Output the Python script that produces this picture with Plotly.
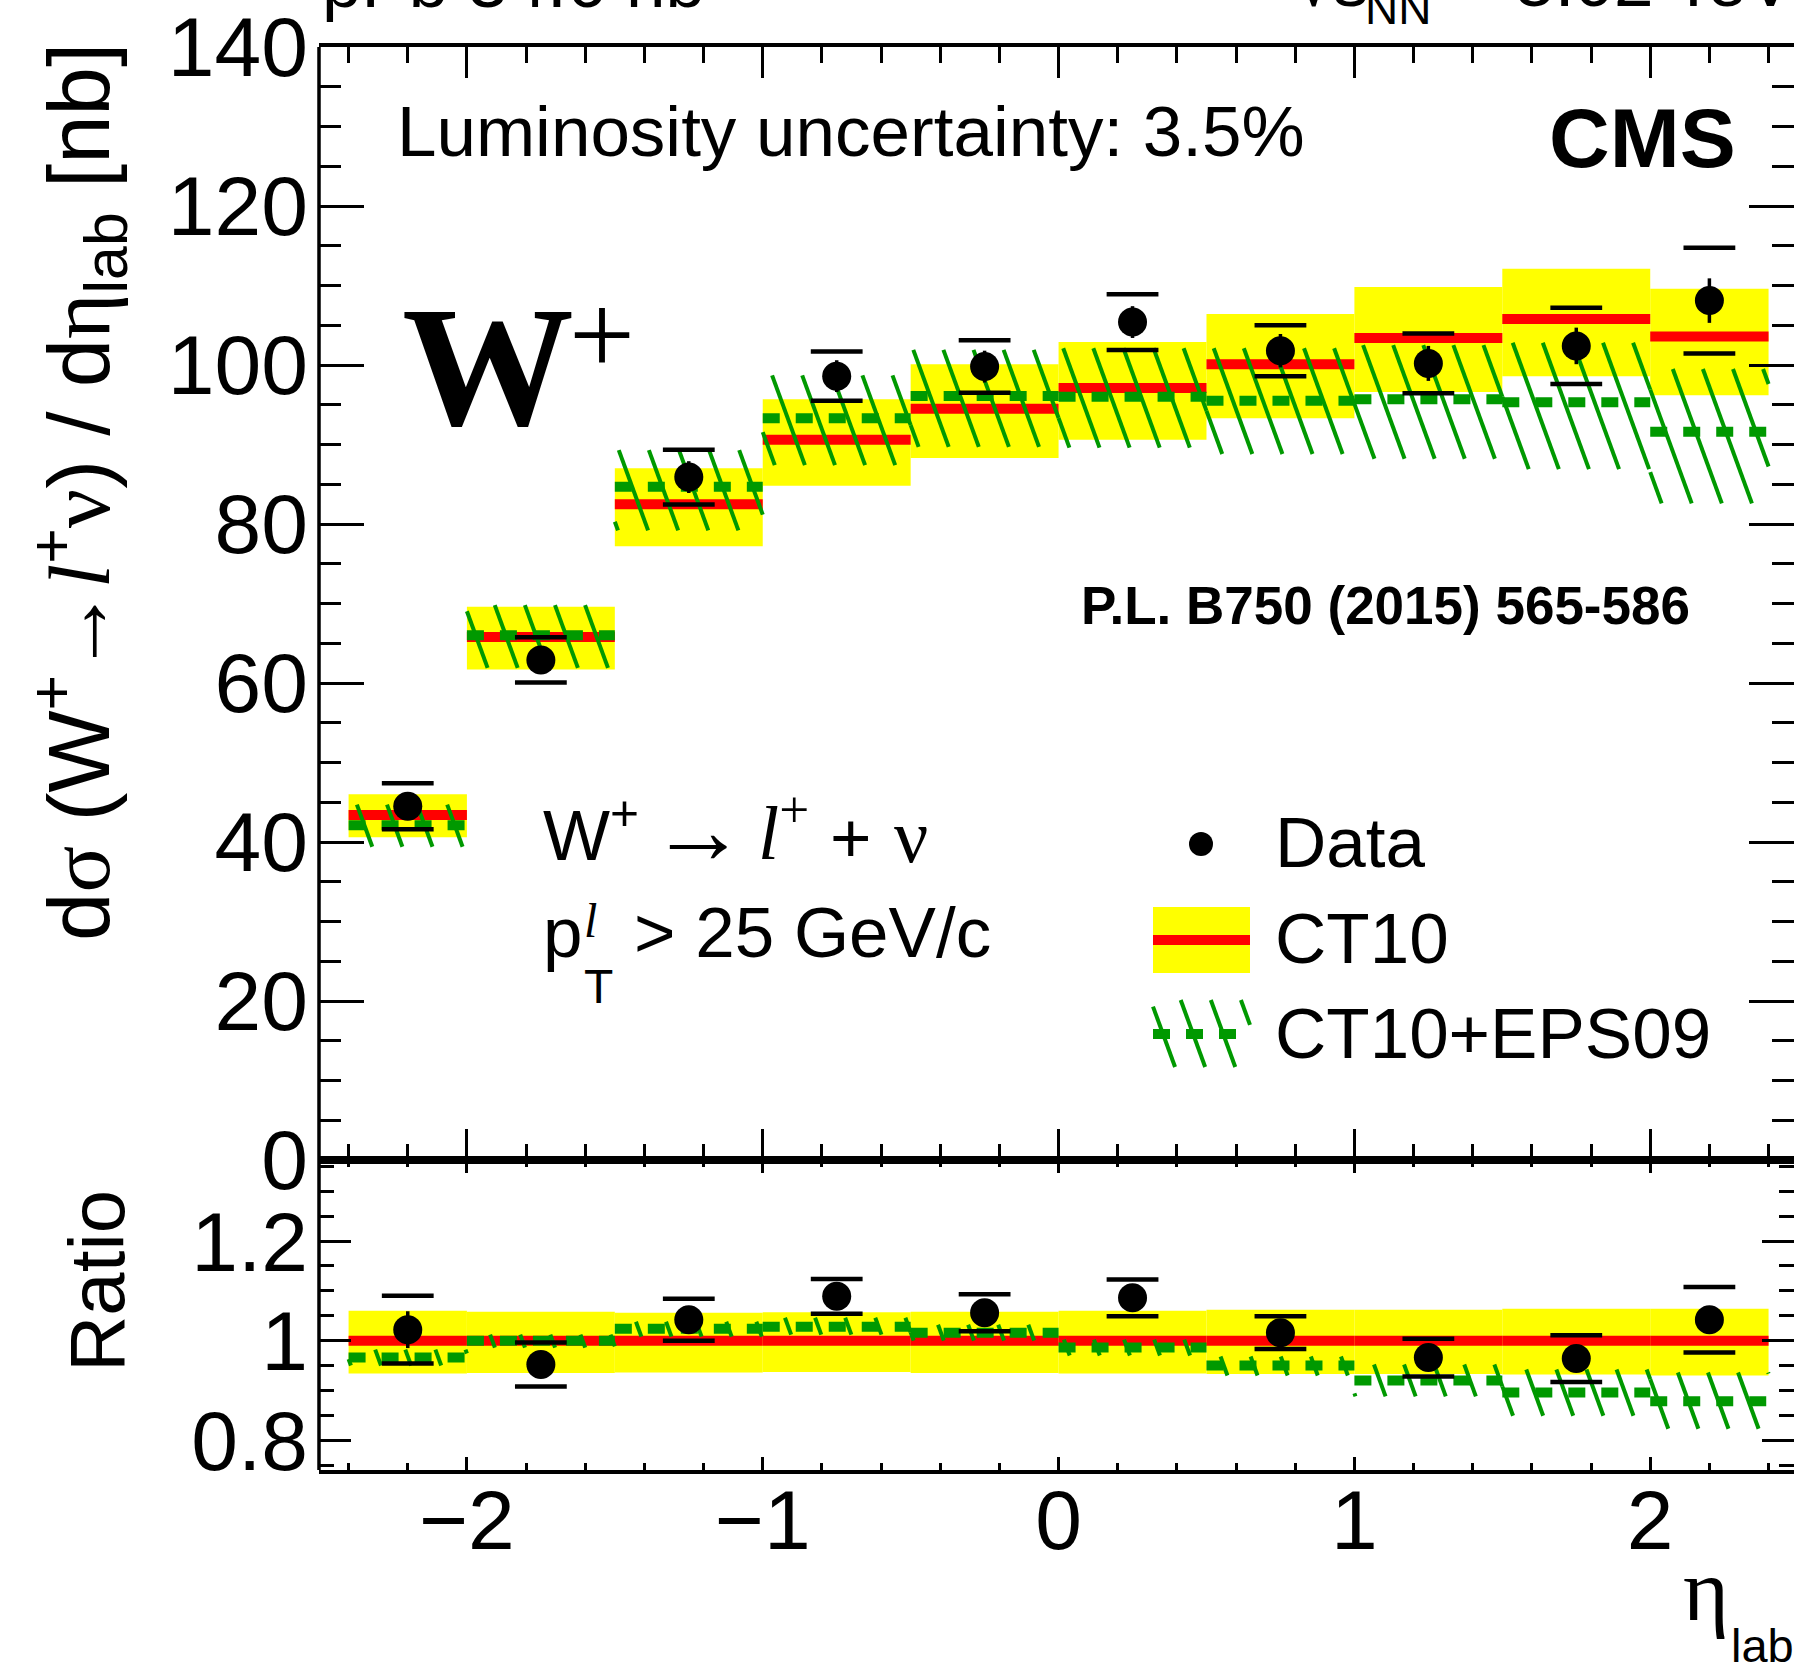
import math
import plotly.graph_objects as go

# ---------------------------------------------------------------- data
# eta_lab bin edges and the positions of the measured points
eta_edges = [-2.4, -2.0, -1.5, -1.0, -0.5, 0.0, 0.5, 1.0, 1.5, 2.0, 2.4]
eta_data = [-2.2, -1.75, -1.25, -0.75, -0.25, 0.25, 0.75, 1.25, 1.75, 2.2]

# measured d(sigma)/d(eta_lab) [nb] with statistical and systematic errors
xsec = [44.5, 62.9, 85.9, 98.6, 99.8, 105.4, 101.8, 100.2, 102.4, 108.1]
xsec_stat = [1.6, 1.7, 2.0, 2.0, 2.0, 2.0, 2.1, 2.2, 2.3, 2.8]
xsec_syst = [2.9, 2.85, 3.45, 3.1, 3.3, 3.5, 3.2, 3.75, 4.8, 6.65]

# CT10 prediction: central value and uncertainty band
ct10 = [43.4, 65.8, 82.5, 90.6, 94.5, 97.1, 100.1, 103.4, 105.8, 103.6]
ct10_lo = [40.6, 61.7, 77.2, 84.8, 88.3, 90.6, 93.3, 96.6, 98.6, 96.2]
ct10_hi = [46.0, 69.6, 87.0, 95.7, 100.1, 102.9, 106.4, 109.8, 112.1, 109.6]

# CT10+EPS09 prediction: central value and uncertainty band
eps09 = [42.1, 66.0, 84.7, 93.3, 96.1, 96.0, 95.5, 95.7, 95.3, 91.6]
eps09_lo = [39.4, 61.9, 79.2, 87.4, 89.7, 89.6, 88.8, 88.2, 86.9, 82.6]
eps09_hi = [44.7, 69.8, 89.3, 98.7, 101.9, 102.1, 102.1, 102.5, 102.8, 99.5]

# ratios to the CT10 central value
ratio = [1.022, 0.952, 1.042, 1.089, 1.056, 1.086, 1.016, 0.966, 0.964, 1.042]
ratio_stat = [0.037, 0.026, 0.024, 0.022, 0.021, 0.021, 0.021, 0.021, 0.022, 0.027]
ratio_syst = [0.068, 0.044, 0.042, 0.035, 0.037, 0.037, 0.033, 0.038, 0.047, 0.066]
ratio_ct10 = [1.0, 1.0, 1.0, 1.0, 1.0, 1.0, 1.0, 1.0, 1.0, 1.0]
ratio_ct10_lo = [0.934, 0.935, 0.936, 0.937, 0.935, 0.934, 0.933, 0.933, 0.932, 0.930]
ratio_ct10_hi = [1.060, 1.058, 1.056, 1.057, 1.058, 1.060, 1.062, 1.062, 1.064, 1.064]
ratio_eps09 = [0.966, 1.000, 1.024, 1.028, 1.016, 0.986, 0.950, 0.920, 0.896, 0.878]
ratio_eps09_lo = [0.950, 0.986, 1.008, 1.012, 1.000, 0.970, 0.930, 0.888, 0.849, 0.823]
ratio_eps09_hi = [0.982, 1.012, 1.038, 1.046, 1.032, 1.002, 0.968, 0.952, 0.942, 0.936]

# ---------------------------------------------------------------- geometry
W, H = 1794, 1668
ML, MR, MT, MB = 319, 0, 47, 198
X_RANGE = [-2.5, 2.486]
Y_RANGE = [0.0, 140.0]
R_RANGE = [0.74, 1.363]
SPLIT_PX = 1160                     # pixel row separating the two pads
PLOT_H = H - MT - MB
RATIO_FRAC = (H - MB - SPLIT_PX) / PLOT_H

FONT = "Liberation Sans, Arial, Helvetica, sans-serif"
SERIF = "Liberation Serif, Times New Roman, serif"
GREEN = "rgb(0,153,0)"


def x_from_px(p):
    return X_RANGE[0] + (p - ML) / (W - ML - MR) * (X_RANGE[1] - X_RANGE[0])


def top_from_py(p):
    return Y_RANGE[1] - (p - MT) / (SPLIT_PX - MT) * (Y_RANGE[1] - Y_RANGE[0])


def ratio_from_py(p):
    return R_RANGE[1] - (p - SPLIT_PX) / (H - MB - SPLIT_PX) * (R_RANGE[1] - R_RANGE[0])


def px_x(x):
    return ML + (x - X_RANGE[0]) / (X_RANGE[1] - X_RANGE[0]) * (W - ML - MR)


def py_top(v):
    return MT + (Y_RANGE[1] - v) / (Y_RANGE[1] - Y_RANGE[0]) * (SPLIT_PX - MT)


def py_ratio(r):
    return SPLIT_PX + (R_RANGE[1] - r) / (R_RANGE[1] - R_RANGE[0]) * (H - MB - SPLIT_PX)


def paper_x(p):
    return (p - ML) / (W - ML - MR)


def paper_y(p):
    return (H - MB - p) / PLOT_H


# ---------------------------------------------------------------- helpers
HATCH_SLOPE = 0.365     # horizontal shift per pixel going down
HATCH_GAP = 30.1        # pixel distance between hatch lines
HATCH_PHASE = 3.0


def hatch_px(x0, x1, y0, y1):
    """Slanted hatch segments clipped to a pixel rectangle."""
    segs = []
    cmin = x0 - HATCH_SLOPE * y1
    cmax = x1 - HATCH_SLOPE * y0
    n0 = math.ceil((cmin - HATCH_PHASE) / HATCH_GAP)
    n1 = math.floor((cmax - HATCH_PHASE) / HATCH_GAP)
    for n in range(n0, n1 + 1):
        c = HATCH_PHASE + n * HATCH_GAP
        ya = max(y0, (x0 - c) / HATCH_SLOPE)
        yb = min(y1, (x1 - c) / HATCH_SLOPE)
        if yb - ya > 0.5:
            segs.append(((c + HATCH_SLOPE * ya, ya), (c + HATCH_SLOPE * yb, yb)))
    return segs


def hatch_trace(lo, hi, to_py, from_py, xaxis, yaxis, extra_rects=()):
    xs, ys = [], []
    rects = [(px_x(eta_edges[i]), px_x(eta_edges[i + 1]), to_py(hi[i]), to_py(lo[i]))
             for i in range(len(lo))] + list(extra_rects)
    for (x0, x1, y0, y1) in rects:
        for (a, b) in hatch_px(x0, x1, y0, y1):
            xs += [x_from_px(a[0]), x_from_px(b[0]), None]
            ys += [from_py(a[1]), from_py(b[1]), None]
    return go.Scatter(x=xs, y=ys, mode="lines", line=dict(color=GREEN, width=4),
                      xaxis=xaxis, yaxis=yaxis, hoverinfo="skip", showlegend=False)


def step_segments(values, extra=()):
    xs, ys = [], []
    for i, v in enumerate(values):
        xs += [eta_edges[i], eta_edges[i + 1], None]
        ys += [v, v, None]
    for (a, b, v) in extra:
        xs += [a, b, None]
        ys += [v, v, None]
    return xs, ys


centers = [(eta_edges[i] + eta_edges[i + 1]) / 2 for i in range(len(eta_edges) - 1)]
widths = [eta_edges[i + 1] - eta_edges[i] for i in range(len(eta_edges) - 1)]

fig = go.Figure()


def add_panel(lo, hi, central, hlo, hhi, hcentral, vals, stat, syst,
              to_py, from_py, xaxis, yaxis, legend=False):
    # CT10 yellow band
    fig.add_trace(go.Bar(x=centers, y=[h - l for h, l in zip(hi, lo)], base=lo, width=widths,
                         marker=dict(color="#ffff00", line=dict(width=0)),
                         xaxis=xaxis, yaxis=yaxis, hoverinfo="skip", showlegend=False))
    # CT10 central value
    xs, ys = step_segments(central)
    fig.add_trace(go.Scatter(x=xs, y=ys, mode="lines", line=dict(color="#ff0000", width=10),
                             xaxis=xaxis, yaxis=yaxis, hoverinfo="skip", showlegend=False))
    # CT10+EPS09 hatched band (plus legend swatch in the upper pad)
    extra = [(1153, 1250, 1000, 1067)] if legend else []
    fig.add_trace(hatch_trace(hlo, hhi, to_py, from_py, xaxis, yaxis, extra))
    # CT10+EPS09 central value, dashed
    extra_dash = [(x_from_px(1153), x_from_px(1250), from_py(1034))] if legend else []
    xs, ys = step_segments(hcentral, extra_dash)
    fig.add_trace(go.Scatter(x=xs, y=ys, mode="lines",
                             line=dict(color=GREEN, width=10, dash="17px,16px"),
                             xaxis=xaxis, yaxis=yaxis, hoverinfo="skip", showlegend=False))
    # systematic brackets
    cap_x = eta_data + eta_data
    cap_y = [v + s for v, s in zip(vals, syst)] + [v - s for v, s in zip(vals, syst)]
    fig.add_trace(go.Scatter(x=cap_x, y=cap_y, mode="markers",
                             marker=dict(symbol="line-ew", size=37,
                                         line=dict(color="black", width=4.5)),
                             xaxis=xaxis, yaxis=yaxis, hoverinfo="skip", showlegend=False))
    # data points with statistical errors
    fig.add_trace(go.Scatter(x=eta_data, y=vals, mode="markers",
                             marker=dict(color="black", size=29),
                             error_y=dict(type="data", array=stat, width=0, thickness=3.5,
                                          color="black"),
                             xaxis=xaxis, yaxis=yaxis, showlegend=False))


add_panel(ct10_lo, ct10_hi, ct10, eps09_lo, eps09_hi, eps09, xsec, xsec_stat, xsec_syst,
          py_top, top_from_py, "x", "y", legend=True)
add_panel(ratio_ct10_lo, ratio_ct10_hi, ratio_ct10, ratio_eps09_lo, ratio_eps09_hi, ratio_eps09,
          ratio, ratio_stat, ratio_syst, py_ratio, ratio_from_py, "x2", "y2")

# legend marker for the data
fig.add_trace(go.Scatter(x=[x_from_px(1201)], y=[top_from_py(844)], mode="markers",
                         marker=dict(color="black", size=24), xaxis="x", yaxis="y",
                         hoverinfo="skip", showlegend=False))

shapes = [
    # legend swatch for CT10
    dict(type="rect", xref="x", yref="y", x0=x_from_px(1153), x1=x_from_px(1250),
         y0=top_from_py(973), y1=top_from_py(907), fillcolor="#ffff00", line=dict(width=0)),
    dict(type="line", xref="x", yref="y", x0=x_from_px(1153), x1=x_from_px(1250),
         y0=top_from_py(940), y1=top_from_py(940), line=dict(color="#ff0000", width=10)),
    # left frame edge of both pads (the right edge lies just outside the canvas)
    dict(type="line", xref="paper", yref="paper", x0=0, x1=0, y0=0, y1=1,
         line=dict(color="black", width=3.5)),
]


# ---------------------------------------------------------------- text
def ann(text, px, py, size, xanchor="left", yanchor="middle", family=FONT, angle=0):
    return dict(text=text, x=paper_x(px), y=paper_y(py), xref="paper", yref="paper",
                xanchor=xanchor, yanchor=yanchor, showarrow=False, textangle=angle,
                font=dict(family=family, size=size, color="black"))


def on_base(text, px, baseline, size, family=FONT, xanchor="left", sup=False):
    """Place a one-line text so that its baseline sits at the given pixel row."""
    py = baseline - 0.36 * size - (0.11 * size if sup else 0.0)
    return ann(text, px, py, size, xanchor=xanchor, family=family)


def serif(t):
    return '<span style="font-family:Liberation Serif">' + t + "</span>"


annotations = [
    ann("d" + serif("σ") + " (W<sup>+</sup>" + serif("→<i>l</i>") + "<sup>+</sup>" + serif("ν")
        + ") / d" + serif("η") + "<sub>lab</sub> [nb]", 78, 492, 87, xanchor="center", angle=-90),
    ann("Ratio", 97, 1281, 78, xanchor="center", angle=-90),
    # x axis title
    on_base("η", 1681, 1622, 88, family=SERIF),
    on_base("lab", 1729, 1662, 47),
    ann("Luminosity uncertainty: 3.5%", 395, 131, 71),
    ann("<b>CMS</b>", 1738, 138, 84, xanchor="right"),
    # boson label
    on_base("<b>W</b>", 400, 428, 172, family=SERIF),
    ann("+", 602, 335, 117, xanchor="center", family=SERIF),
    ann("<b>P.L. B750 (2015) 565-586</b>", 1079, 606, 53),
    # process label
    on_base("W<sup>+</sup>", 541, 863, 71, sup=True),
    ann("→", 698, 830, 96, xanchor="center", family=SERIF),
    on_base("<i>l</i><sup>+</sup>", 756, 863, 76, family=SERIF, sup=True),
    on_base("+", 828, 863, 71),
    on_base("ν", 892, 863, 76, family=SERIF),
    # lepton pT cut
    on_base("p", 541, 958, 71),
    ann(serif("<i>l</i>"), 582, 921, 48),
    ann("T", 582, 986, 48),
    on_base("> 25 GeV/c", 632, 958, 71),
    # legend
    ann("Data", 1273, 842, 71),
    ann("CT10", 1273, 938, 71),
    ann("CT10+EPS09", 1273, 1033, 71),
    # header, cut by the top edge
    ann("pPb 34.6 nb<sup>−1</sup>", 320, -23, 71),
    on_base("√" + "s", 1292, 7, 71),
    on_base("NN", 1363, 25, 46),
    on_base("= 5.02 TeV", 1452, 7, 71),
]

# ---------------------------------------------------------------- axes
axis_common = dict(showgrid=False, zeroline=False, showline=True, linecolor="black",
                   linewidth=3.5, mirror="allticks", ticks="inside", tickcolor="black",
                   tickwidth=3, tickfont=dict(family=FONT, size=84, color="black"))

fig.update_layout(
    width=W, height=H,
    margin=dict(l=ML, r=MR, t=MT, b=MB, pad=0),
    paper_bgcolor="white", plot_bgcolor="white",
    showlegend=False,
    xaxis=dict(axis_common, domain=[0, 1], anchor="y", range=X_RANGE, tick0=0, dtick=1,
               ticklen=31, showticklabels=False,
               minor=dict(dtick=0.2, tick0=0, ticklen=16, tickwidth=3, ticks="inside",
                          tickcolor="black", showgrid=False)),
    yaxis=dict(axis_common, domain=[RATIO_FRAC, 1], anchor="x", range=Y_RANGE, tick0=0,
               dtick=20, ticklen=45, ticklabelstandoff=10, showline=False,
               minor=dict(dtick=5, tick0=0, ticklen=22, tickwidth=3, ticks="inside",
                          tickcolor="black", showgrid=False)),
    xaxis2=dict(axis_common, domain=[0, 1], anchor="y2", range=X_RANGE, matches="x", tick0=0,
                dtick=1, ticklen=13, ticklabelstandoff=-26,
                minor=dict(dtick=0.2, tick0=0, ticklen=7, tickwidth=3, ticks="inside",
                           tickcolor="black", showgrid=False)),
    yaxis2=dict(axis_common, domain=[0, RATIO_FRAC], anchor="x2", range=R_RANGE, tick0=0,
                dtick=0.2, ticklen=32, ticklabelstandoff=10, showline=False,
                minor=dict(dtick=0.05, tick0=0, ticklen=15, tickwidth=3, ticks="inside",
                           tickcolor="black", showgrid=False)),
    shapes=shapes,
    annotations=annotations,
)

fig.write_html("out.html")
